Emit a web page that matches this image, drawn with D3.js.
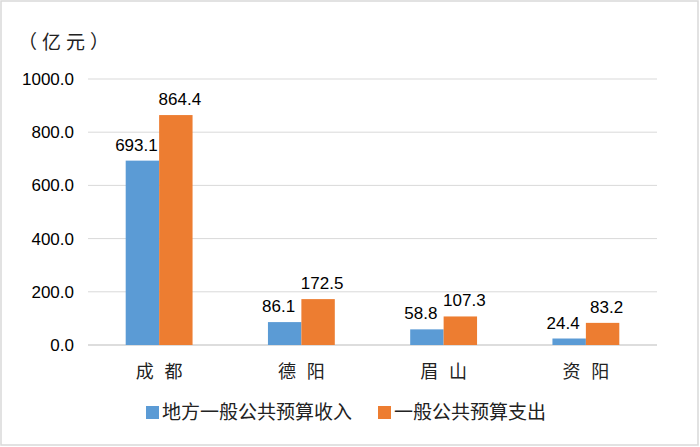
<!DOCTYPE html>
<html>
<head>
<meta charset="utf-8">
<script src="https://cdn.jsdelivr.net/npm/d3@7"></script>
<style>
  body { margin: 0; background: #fff; }
  svg { display: block; }
</style>
</head>
<body>
<div id="chart"></div>
<script>
var categories = ["成都", "德阳", "眉山", "资阳"];
var seriesNames = ["地方一般公共预算收入", "一般公共预算支出"];
var revenue = [693.1, 86.1, 58.8, 24.4];
var spending = [864.4, 172.5, 107.3, 83.2];
var yTicks = [0, 200, 400, 600, 800, 1000];

var colors = ["#5B9BD5", "#ED7D31"];
var width = 700, height = 447;
var margin = { top: 79, right: 43, bottom: 102, left: 88 };

var svg = d3.select("#chart").append("svg")
    .attr("width", width)
    .attr("height", height);

// chart border
svg.append("rect")
    .attr("x", 1).attr("y", 1)
    .attr("width", width - 3).attr("height", height - 3)
    .attr("fill", "#fff")
    .attr("stroke", "#d9d9d9")
    .attr("stroke-width", 1.5);

var x = d3.scaleBand()
    .domain(categories)
    .range([margin.left, width - margin.right])
    .paddingInner(0.53)
    .paddingOuter(0.265);

var x1 = d3.scaleBand()
    .domain([0, 1])
    .range([0, x.bandwidth()]);

var y = d3.scaleLinear()
    .domain([0, 1000])
    .range([height - margin.bottom, margin.top]);

// gridlines
svg.append("g")
    .selectAll("line")
    .data(yTicks)
    .enter().append("line")
    .attr("x1", margin.left)
    .attr("x2", width - margin.right)
    .attr("y1", function(d) { return y(d); })
    .attr("y2", function(d) { return y(d); })
    .attr("stroke", "#d9d9d9")
    .attr("stroke-width", 1);

// y axis labels
var yAxis = d3.axisLeft(y)
    .tickValues(yTicks)
    .tickFormat(d3.format(".1f"))
    .tickSize(0)
    .tickPadding(14);

svg.append("g")
    .attr("transform", "translate(" + margin.left + ",0)")
    .call(yAxis)
    .call(function(g) { g.select(".domain").remove(); })
    .selectAll("text")
    .attr("font-family", "Liberation Sans, Arial, sans-serif")
    .attr("font-size", 17)
    .attr("fill", "#000");

// x axis labels, spaced out like the original
var xAxis = d3.axisBottom(x).tickSize(0).tickPadding(20);
svg.append("g")
    .attr("transform", "translate(0," + y(0) + ")")
    .call(xAxis)
    .call(function(g) { g.select(".domain").remove(); })
    .selectAll("text")
    .attr("font-family", "Noto Sans CJK SC, sans-serif")
    .attr("font-size", 18)
    .attr("letter-spacing", 11)
    .attr("dx", 5.5)
    .attr("fill", "#222");

// baseline
svg.append("line")
    .attr("x1", margin.left).attr("x2", width - margin.right)
    .attr("y1", y(0)).attr("y2", y(0))
    .attr("stroke", "#d9d9d9").attr("stroke-width", 1.5);

var series = [revenue, spending];
var labelShift = [-6, 4];

series.forEach(function(vals, si) {
    svg.append("g")
        .selectAll("rect")
        .data(vals)
        .enter().append("rect")
        .attr("x", function(d, i) { return x(categories[i]) + x1(si); })
        .attr("y", function(d) { return y(d); })
        .attr("width", x1.bandwidth())
        .attr("height", function(d) { return y(0) - y(d); })
        .attr("fill", colors[si]);

    svg.append("g")
        .selectAll("text")
        .data(vals)
        .enter().append("text")
        .attr("x", function(d, i) { return x(categories[i]) + x1(si) + x1.bandwidth() / 2 + labelShift[si]; })
        .attr("y", function(d) { return y(d) - 10; })
        .attr("text-anchor", "middle")
        .attr("font-family", "Liberation Sans, Arial, sans-serif")
        .attr("font-size", 17)
        .attr("fill", "#000")
        .text(function(d) { return d3.format(".1f")(d); });
});

// unit label
svg.append("text")
    .attr("x", 18).attr("y", 49)
    .attr("font-family", "Noto Sans CJK SC, sans-serif")
    .attr("font-size", 19)
    .attr("letter-spacing", 5)
    .attr("fill", "#222")
    .text("（亿元）");

// legend
var legendX = [146, 378];
var legend = svg.append("g")
    .selectAll("g")
    .data(seriesNames)
    .enter().append("g")
    .attr("transform", function(d, i) { return "translate(" + legendX[i] + ",406)"; });

legend.append("rect")
    .attr("width", 13).attr("height", 13)
    .attr("fill", function(d, i) { return colors[i]; });

legend.append("text")
    .attr("x", 16).attr("y", 13)
    .attr("font-family", "Noto Sans CJK SC, sans-serif")
    .attr("font-size", 19)
    .attr("fill", "#222")
    .text(function(d) { return d; });
</script>
</body>
</html>
